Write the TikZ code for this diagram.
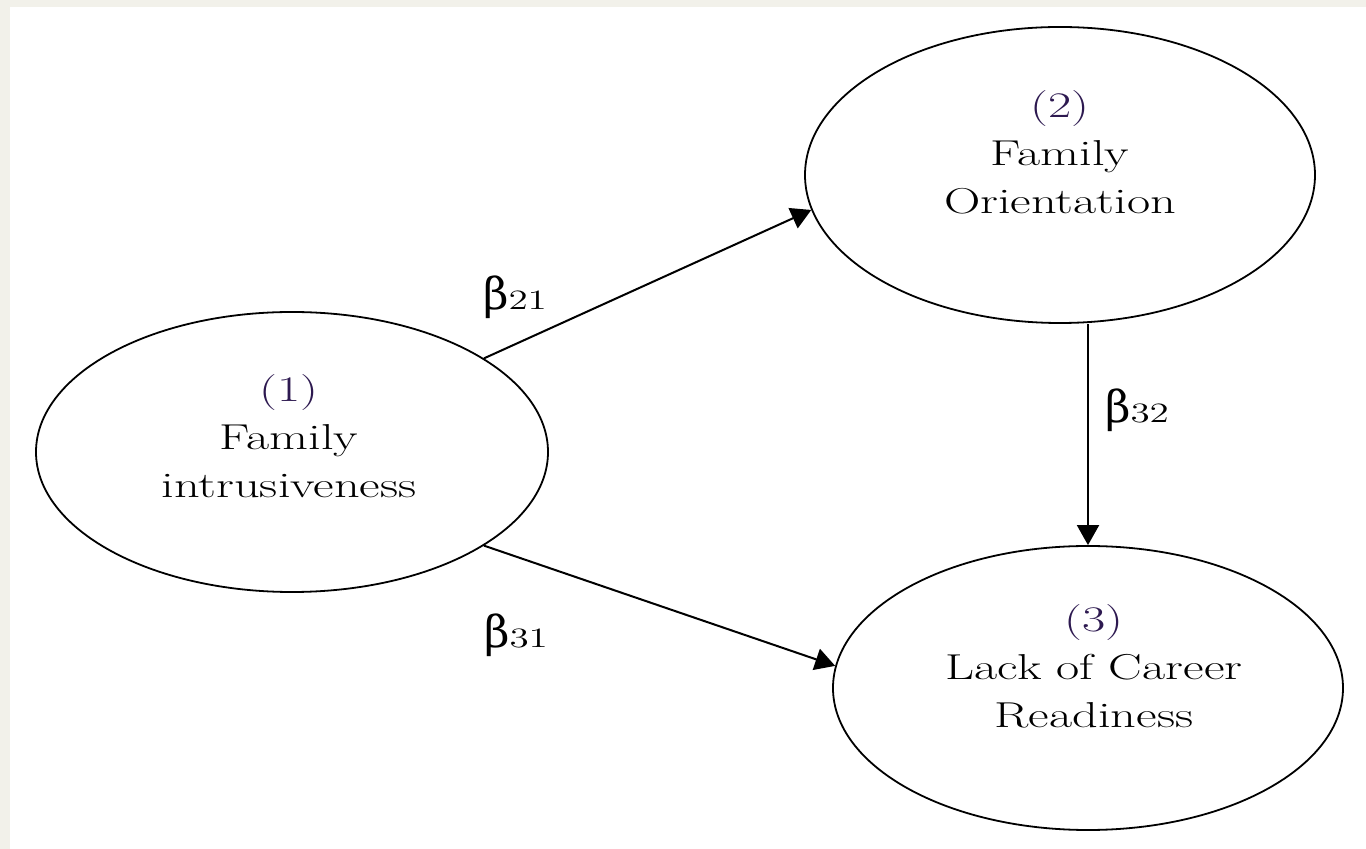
\documentclass[tikz,border=0pt]{standalone}
\usepackage{fontspec}
\setmainfont{Latin Modern Roman}[FakeStretch=1.4]
\newfontfamily\betafont{DejaVu Serif}
\usetikzlibrary{arrows.meta, shapes.geometric, calc}
\definecolor{framec}{RGB}{242,241,234}
\definecolor{numc}{RGB}{45,25,80}
\newcommand{\coef}[1]{{\betafont\fontsize{22}{22}\selectfont β}{\fontsize{14}{14}\selectfont #1}}

\begin{document}
\begin{tikzpicture}[x=0.5pt, y=-0.5pt,
  construct/.style={ellipse, draw, line width=0.9pt, inner sep=0pt},
  caption/.style={align=center, font=\fontsize{18}{24}\selectfont},
  effect/.style={-{Triangle[length=10pt, width=11pt]}, line width=1pt},
  coeflabel/.style={inner sep=0pt}]
  \fill[framec] (0,0) rectangle (1366,849);
  \fill[white] (10,7) rectangle (1366,849);
  \useasboundingbox (0,0) rectangle (1366,849);

  % the three constructs
  \node[construct, minimum width=256pt, minimum height=140pt] (fi) at (292,452) {};
  \node[construct, minimum width=255pt, minimum height=148pt] (fo) at (1060,175) {};
  \node[construct, minimum width=255pt, minimum height=142pt] (cr) at (1088,688) {};

  \node[caption] (fi-txt) at (289,436) {{\color{numc}(1)}\\Family\\intrusiveness};
  \node[caption] (fo-txt) at (1060,152) {{\color{numc}(2)}\\Family\\Orientation};
  \node[caption] (cr-txt) at (1094,666) {{\color{numc}(3)}\\Lack of Career\\Readiness};

  % paths
  \draw[effect] (fi.26) -- (fo.188);
  \draw[effect] (fi.-26) -- (cr.175);
  \draw[effect] (fo.south -| cr.north) -- (cr.north);

  \node[coeflabel] (b21) at (515,297) {\coef{21}};
  \node[coeflabel] (b32) at (1137,410) {\coef{32}};
  \node[coeflabel] (b31) at (516,635) {\coef{31}};
\end{tikzpicture}
\end{document}
